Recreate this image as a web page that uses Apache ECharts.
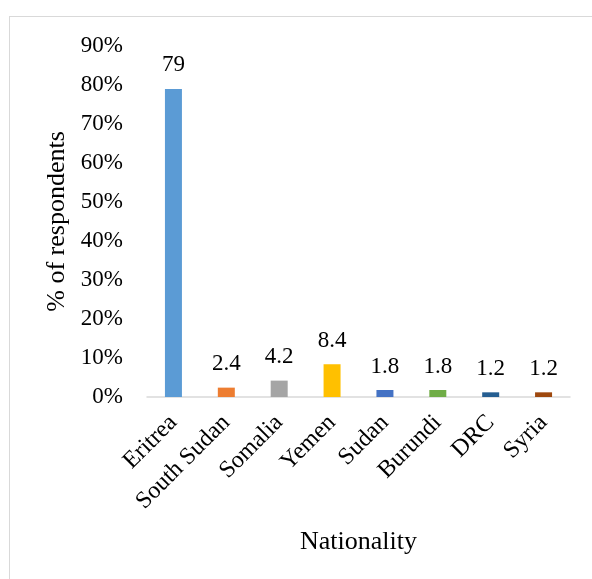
<!DOCTYPE html>
<html>
<head>
<meta charset="utf-8">
<script src="https://cdn.jsdelivr.net/npm/echarts@6/dist/echarts.min.js"></script>
<style>
html,body{margin:0;padding:0;background:#fff;}
#frame{position:absolute;left:9px;top:16px;width:700px;height:700px;border:1px solid #d9d9d9;box-sizing:border-box;}
#chart{position:absolute;left:0;top:0;width:592px;height:579px;}
</style>
</head>
<body>
<div id="frame"></div>
<div id="chart"></div>
<script>
const categories = ['Eritrea','South Sudan','Somalia','Yemen','Sudan','Burundi','DRC','Syria'];
const values = [79, 2.4, 4.2, 8.4, 1.8, 1.8, 1.2, 1.2];
const colors = ['#5B9BD5','#ED7D31','#A5A5A5','#FFC000','#4472C4','#70AD47','#255E91','#9E480E'];
const yTicks = {min: 0, max: 90, interval: 10};

const font = '"Liberation Serif", "Times New Roman", serif';
const chart = echarts.init(document.getElementById('chart'));
chart.setOption({
  animation: false,
  grid: {left: 147, right: 22, top: 46, bottom: 182},
  xAxis: {
    type: 'category',
    data: categories,
    name: 'Nationality',
    nameLocation: 'middle',
    nameGap: 132,
    nameTextStyle: {fontFamily: font, fontSize: 26, color: '#000'},
    axisLine: {lineStyle: {color: '#d9d9d9', width: 1.5}},
    axisTick: {show: false},
    axisLabel: {rotate: 45, fontFamily: font, fontSize: 24, color: '#000', margin: 22, interval: 0}
  },
  yAxis: {
    type: 'value',
    min: yTicks.min, max: yTicks.max, interval: yTicks.interval,
    name: '% of respondents',
    nameLocation: 'middle',
    nameGap: 70,
    nameTextStyle: {fontFamily: font, fontSize: 26, color: '#000'},
    axisLine: {show: false},
    axisTick: {show: false},
    splitLine: {show: false},
    axisLabel: {formatter: '{value}%', fontFamily: font, fontSize: 23, color: '#000', margin: 24}
  },
  series: [{
    type: 'bar',
    data: values.map((v, i) => ({value: v, itemStyle: {color: colors[i]}})),
    barWidth: 17,
    label: {show: true, position: 'top', distance: 12, fontFamily: font, fontSize: 23, color: '#000'}
  }]
});
</script>
</body>
</html>
